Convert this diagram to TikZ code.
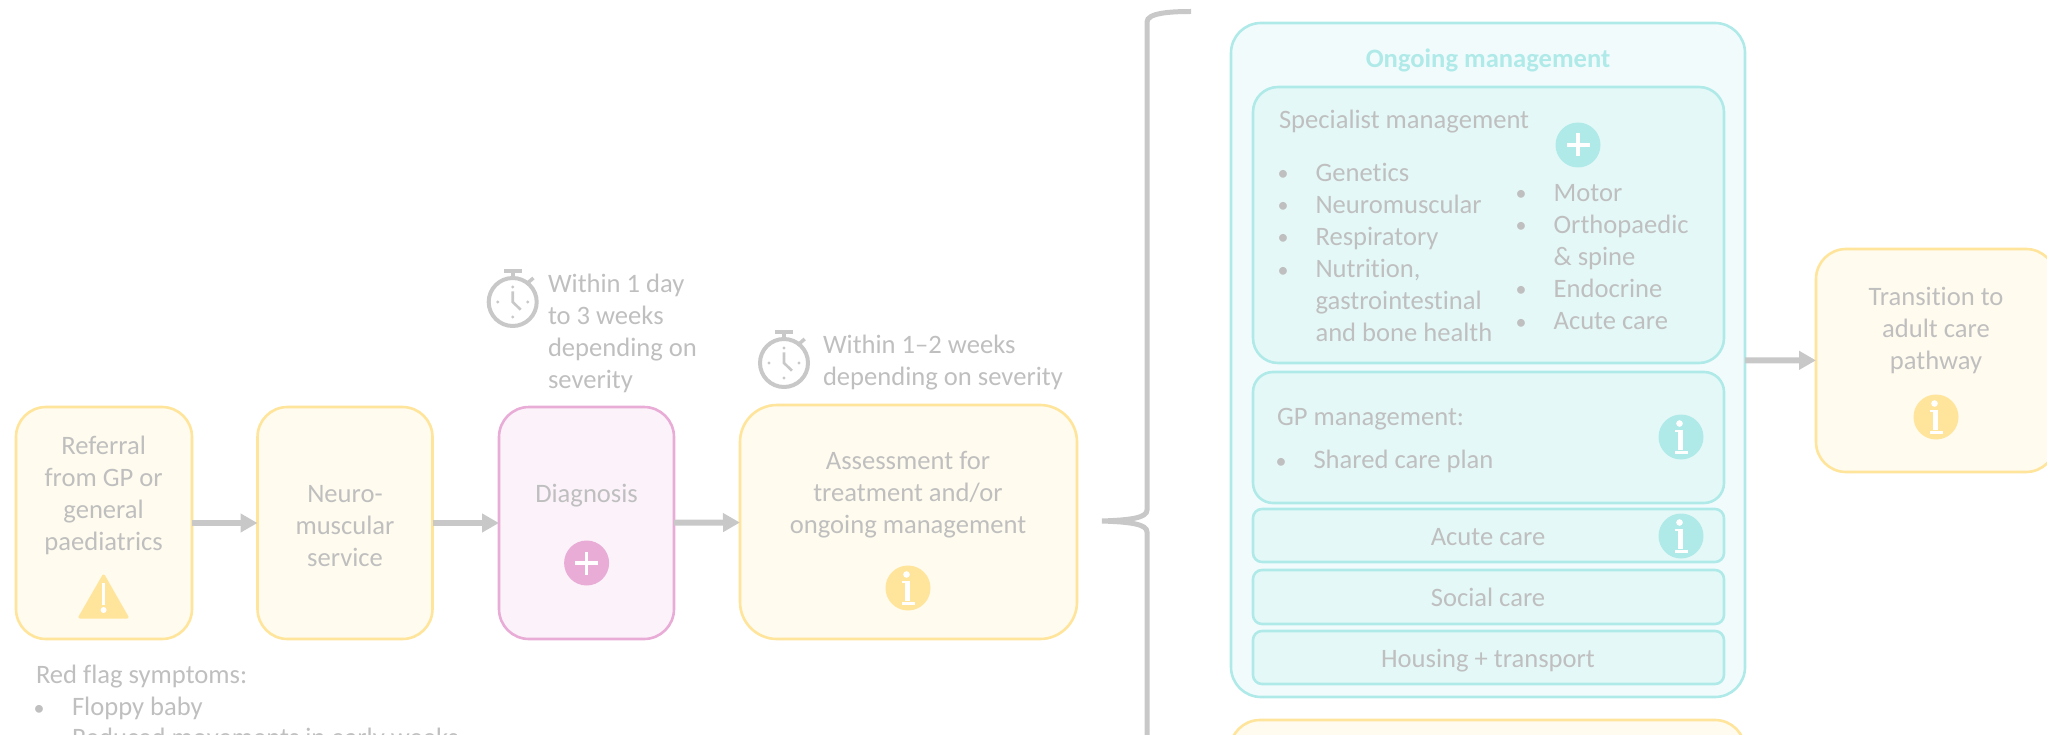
\documentclass[tikz,border=0pt]{standalone}
\usepackage{fontspec}
\setmainfont[Ligatures=NoCommon]{Carlito}
\usetikzlibrary{arrows.meta}
\definecolor{ystroke}{HTML}{FFE49B}
\definecolor{yfill}{HTML}{FFFBEE}
\definecolor{pstroke}{HTML}{E8ACD6}
\definecolor{pfill}{HTML}{FBF2FA}
\definecolor{tstroke}{HTML}{AFEAE9}
\definecolor{tfillout}{HTML}{F2FBFC}
\definecolor{tfillin}{HTML}{E4F8F7}
\definecolor{linegray}{HTML}{C8C8C8}
\definecolor{txtgray}{HTML}{BFBFBF}
\tikzset{
  x=1pt,y=-1pt,
  box/.style={draw,line width=2.6pt,inner sep=0,outer sep=0,rounded corners=30pt},
  ybox/.style={box,draw=ystroke,fill=yfill},
  pbox/.style={box,draw=pstroke,fill=pfill},
  tout/.style={box,draw=tstroke,fill=tfillout},
  tin/.style={box,draw=tstroke,fill=tfillin},
  lbl/.style={inner sep=0,outer sep=0,yshift=-1pt,text=txtgray,font=\fontsize{26.6}{32}\selectfont},
  mid/.style={lbl,anchor=base,align=center},
  lft/.style={lbl,anchor=base west,align=left},
  dot/.style={lbl,anchor=base,font=\fontsize{22}{32}\selectfont},
  flow/.style={draw=linegray,line width=6pt,-{Triangle[length=17pt,width=18pt]}},
  brace/.style={draw=linegray,line width=5pt},
  badge/.style={circle,inner sep=0,outer sep=0,minimum size=45pt,fill=#1},
  pics/plus/.style={code={
    \fill[white] (-11.5,-1.8) rectangle (11.5,1.8);
    \fill[white] (-1.8,-11.5) rectangle (1.8,11.5);
  }},
  pics/info/.style={code={
    \fill[white] (-1.5,-13.5) circle (3.3pt);
    \fill[white] (-3,-7) rectangle (1.5,13);
    \fill[white] (-6,-7) rectangle (1.5,-5);
    \fill[white] (-6.5,13.5) rectangle (6.5,16.5);
  }},
  pics/stopwatch/.style={code={
    \draw[linegray,line width=4pt] (0,0) circle (24pt);
    \fill[linegray] (-9,-33) rectangle (9,-29);
    \fill[linegray] (-2,-29) rectangle (2,-25);
    \draw[linegray,line width=3.5pt] (15.5,-19.5) -- (20.7,-24);
    \foreach \a/\b in {0/-15,15/0,0/15,-15/0}{\fill[linegray] (\a,\b) circle (1.6pt);}
    \draw[linegray,line width=2.6pt] (0,-10.7) -- (0,0) -- (8,7.7);
  }},
}
\begin{document}
\begin{tikzpicture}
\useasboundingbox (0,0) rectangle (2047,735);
\clip (0,0) rectangle (2047,735);
% left flow
\node[ybox,minimum width=176pt,minimum height=232pt] (referral) at (104,523) {};
\node[ybox,minimum width=175pt,minimum height=232pt] (neuro) at (345,523) {};
\node[pbox,minimum width=175pt,minimum height=232pt] (diagnosis) at (586.5,523) {};
\node[ybox,minimum width=337pt,minimum height=234pt,rounded corners=37pt] (assess) at (908.5,522) {};
\node[ybox,minimum width=240pt,minimum height=223pt] (transition) at (1936,360.5) {};
% ongoing management
\node[tout,minimum width=514pt,minimum height=674pt] (ongoing) at (1488,360) {};
\node[tin,minimum width=471pt,minimum height=276pt,rounded corners=25pt] (specialist) at (1488.5,225) {};
\node[tin,minimum width=471pt,minimum height=131pt,rounded corners=20pt] (gp) at (1488.5,437.5) {};
\node[tin,minimum width=471pt,minimum height=53pt,rounded corners=9pt] (acute) at (1488.5,535.5) {};
\node[tin,minimum width=471pt,minimum height=54pt,rounded corners=9pt] (social) at (1488.5,597) {};
\node[tin,minimum width=471pt,minimum height=53pt,rounded corners=9pt] (housing) at (1488.5,657.5) {};
\node[ybox,minimum width=515pt,minimum height=160pt] (lower) at (1487.5,800) {};
% connectors
\draw[flow] (referral) -- (neuro);
\draw[flow] (neuro) -- (diagnosis);
\draw[flow] (diagnosis) -- (assess);
\draw[flow] (ongoing) -- (transition);
% brace
\coordinate (bracetop) at (1191,11.5);
\coordinate (bracetip) at (1102,521);
\coordinate (bracebot) at (1147,745);
\draw[brace] (bracetop) .. controls (1170,11.5) and (1147,13) .. (1147,22) -- (1147,510)
  .. controls (1147,518) and (1130,520) .. (bracetip)
  .. controls (1130,522) and (1147,524) .. (1147,532) -- (bracebot);
% warning icon
\draw[fill=ystroke,draw=ystroke,line width=3pt,line join=round] (103.6,576) -- (127,617) -- (80,617) -- cycle;
\fill[white] (101.8,583) rectangle (105.4,605);
\fill[white] (103.6,610) circle (3pt);
% badges
\node[badge=pstroke] (plusdiag) at (586.6,563) {};
\pic at (plusdiag) {plus};
\node[badge=tstroke] (plusspec) at (1578,145) {};
\pic at (plusspec) {plus};
\node[badge=ystroke] (infoassess) at (908,588) {};
\pic at (infoassess) {info};
\node[badge=ystroke] (infotrans) at (1936,417) {};
\pic at (infotrans) {info};
\node[badge=tstroke] (infogp) at (1681,437) {};
\pic at (infogp) {info};
\node[badge=tstroke] (infoacute) at (1681,536) {};
\pic at (infoacute) {info};
% stopwatches
\pic at (512.7,302) {stopwatch};
\pic at (784,363) {stopwatch};
% labels
\node[mid] (treferral) at (103.6,549) {Referral\\from GP or\\general\\paediatrics};
\node[mid] (tneuro) at (345,565) {Neuro-\\muscular\\service};
\node[mid] (tdiag) at (586.6,501) {Diagnosis};
\node[mid] (tassess) at (908,532) {Assessment for\\treatment and/or\\ongoing management};
\node[lft] (ttime1) at (548,387) {Within 1 day\\to 3 weeks\\depending on\\severity};
\node[lft] (ttime2) at (823,384) {Within 1–2 weeks\\depending on severity};
\node[mid] (ttrans) at (1936,368) {Transition to\\adult care\\pathway};
\node[lft] (tred) at (36,682) {Red flag symptoms:};
\node[dot] (bred1) at (39,714) {•};
\node[lft] (tred1) at (72,714) {Floppy baby};
\node[dot] (bred2) at (39,745) {•};
\node[lft] (tred2) at (72,745) {Reduced movements in early weeks};
\node[mid,text=tstroke,font=\fontsize{26.6}{32}\selectfont\bfseries] (tongoing) at (1488,67) {Ongoing management};
\node[lft] (tspec) at (1279,128) {Specialist management};
\node[dot] (b1) at (1283,180) {•};
\node[lft] (s1) at (1315.5,340) {Genetics\\Neuromuscular\\Respiratory\\Nutrition,\\gastrointestinal\\and bone health};
\node[dot] (b2) at (1283,212) {•};
\node[dot] (b3) at (1283,244) {•};
\node[dot] (b4) at (1283,276) {•};
\node[dot] (b5) at (1521,200) {•};
\node[lft] (s2) at (1553.6,328) {Motor\\Orthopaedic\\\& spine\\Endocrine\\Acute care};
\node[dot] (b6) at (1521,232) {•};
\node[dot] (b7) at (1521,296) {•};
\node[dot] (b8) at (1521,328) {•};
\node[lft] (tgp) at (1277,424) {GP management:};
\node[dot] (b9) at (1281,467) {•};
\node[lft] (tshared) at (1313.5,467) {Shared care plan};
\node[mid] (tacute) at (1488,544) {Acute care};
\node[mid] (tsocial) at (1488,605) {Social care};
\node[mid] (thousing) at (1488,666) {Housing + transport};
\end{tikzpicture}
\end{document}
